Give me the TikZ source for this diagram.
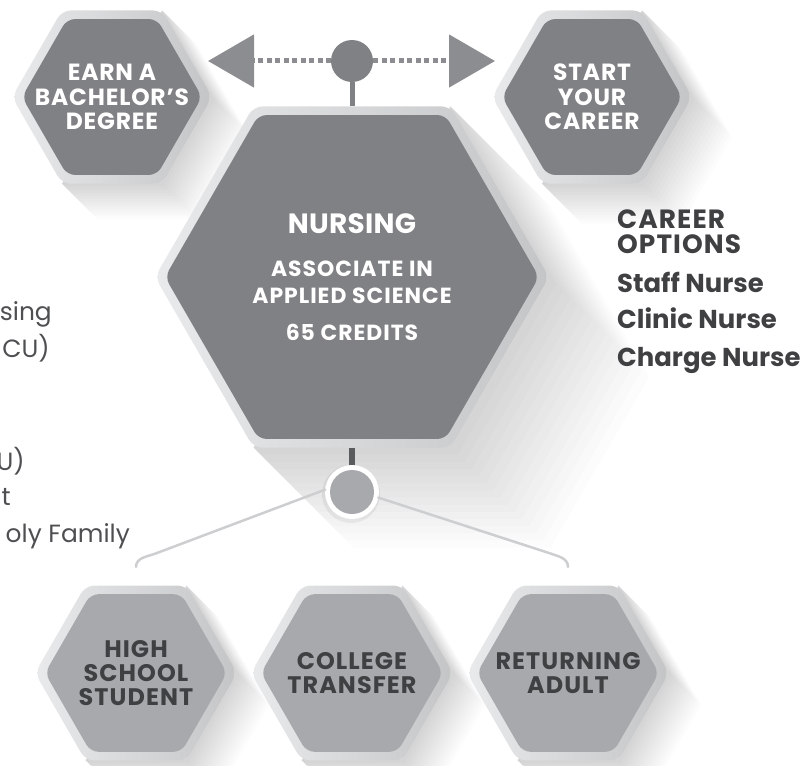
\documentclass[tikz,border=0pt]{standalone}
\usepackage{fontspec}
\setmainfont{Poppins}
\usetikzlibrary{shapes.geometric,arrows.meta,calc}

\definecolor{hexdark}{HTML}{808184}
\definecolor{hexlight}{HTML}{A7A9AC}
\definecolor{ringlight}{HTML}{E9EAEB}
\definecolor{ringdark}{HTML}{C4C5C7}
\definecolor{txtdark}{HTML}{3F4042}
\definecolor{txtmid}{HTML}{4E4F51}
\definecolor{dotgray}{HTML}{8C8D90}
\definecolor{conndark}{HTML}{5A5B5D}
\definecolor{linegray}{HTML}{CDCED0}

% soft cast shadow: stacked translucent extrusions of the hexagon towards lower right
\newcommand\mkshadow[4]{%
  \pgfmathsetmacro\hA{#3/2}\pgfmathsetmacro\hB{0.866*#3}%
  \foreach \k in {1,...,14}{%
    \pgfmathsetmacro\dd{#4*\k/14}%
    \fill[black, opacity=0.013]
      (#1-\hA,-#2-\hB) -- (#1-\hA+\dd,-#2-\hB-\dd) -- (#1+\hA+\dd,-#2-\hB-\dd)
      -- (#1+#3+\dd,-#2-\dd) -- (#1+\hA+\dd,-#2+\hB-\dd) -- (#1+\hA,-#2+\hB) -- cycle;}}

\tikzset{
  hexring/.style={regular polygon, regular polygon sides=6, minimum size=#1,
    inner sep=0pt, outer sep=0pt, left color=ringlight, right color=ringdark,
    rounded corners=9bp, draw=none},
  hexcore/.style={regular polygon, regular polygon sides=6, minimum size=#1,
    inner sep=0pt, outer sep=0pt, rounded corners=8bp, draw=none},
  hextxt/.style={align=center, inner sep=0pt,
    font=\bfseries\fontsize{23.5}{24.5}\selectfont\addfontfeature{LetterSpace=3.5}},
  hextxtb/.style={align=center, inner sep=0pt,
    font=\bfseries\fontsize{24}{23.8}\selectfont\addfontfeature{LetterSpace=4.5}},
  nurstitle/.style={anchor=base, inner sep=0pt, text=white,
    font=\bfseries\fontsize{28}{30}\selectfont\addfontfeature{LetterSpace=1}},
  nurssub/.style={anchor=base, inner sep=0pt, text=white,
    font=\bfseries\fontsize{22}{24}\selectfont\addfontfeature{LetterSpace=4.5}},
  careercaps/.style={anchor=base west, inner sep=0pt, text=txtdark,
    font=\bfseries\fontsize{26.5}{28}\selectfont\addfontfeature{LetterSpace=4}},
  careertxt/.style={anchor=base west, inner sep=0pt, text=txtdark,
    font=\bfseries\fontsize{26}{28}\selectfont},
  lefttxt/.style={anchor=base east, inner sep=0pt, text=txtmid, font=\fontsize{25}{28}\selectfont},
  dotline/.style={draw=dotgray, line width=5bp, dash pattern=on 5bp off 3.5bp,
    -{Triangle[length=46bp,width=52bp]}},
  topconn/.style={draw=hexdark, line width=5bp},
  botconn/.style={draw=conndark, line width=6bp},
  splitline/.style={draw=linegray, line width=2.5bp, line cap=round},
}

\begin{document}
\begin{tikzpicture}[x=1bp,y=1bp]
\useasboundingbox (0,0) rectangle (803,-766);

% shadows
\mkshadow{112}{97}{100}{35}
\mkshadow{592}{97}{100}{40}
\mkshadow{352}{277}{197}{100}
\mkshadow{136}{673}{101}{32}
\mkshadow{352}{673}{101}{32}
\mkshadow{568}{673}{101}{32}

% hexagons
\node[hexring=200bp] (earn) at (112,-97) {};
\node[hexcore=180bp, fill=hexdark] (earnc) at (earn.center) {};
\node[hexring=200bp] (start) at (592,-97) {};
\node[hexcore=180bp, fill=hexdark] (startc) at (start.center) {};
\node[hexring=394bp] (nurs) at (352,-277) {};
\node[hexcore=374bp, fill=hexdark] (nursc) at (nurs.center) {};
\node[hexring=202bp] (hs) at (136,-673) {};
\node[hexcore=182bp, fill=hexlight] (hsc) at (hs.center) {};
\node[hexring=202bp] (ct) at (352,-673) {};
\node[hexcore=182bp, fill=hexlight] (ctc) at (ct.center) {};
\node[hexring=202bp] (ra) at (568,-673) {};
\node[hexcore=182bp, fill=hexlight] (rac) at (ra.center) {};

% circles
\node[circle, minimum size=42bp, inner sep=0pt, outer sep=0pt, fill=hexdark] (tc) at (352,-61) {};
\node[circle, minimum size=58bp, inner sep=0pt, outer sep=0pt, fill=black, opacity=0.06] (bcs) at (351,-494) {};
\node[circle, minimum size=54bp, inner sep=0pt, outer sep=0pt, fill=white] (bc) at (352,-492) {};
\node[circle, minimum size=44bp, inner sep=0pt, outer sep=0pt, fill=hexlight] (bcc) at (bc.center) {};

% named free ends
\coordinate (ltip) at (208,-61);
\coordinate (rtip) at (495,-61);
\coordinate (lk) at (157,-553);
\coordinate (lend) at (136,-567);
\coordinate (rk) at (549,-553);
\coordinate (rend) at (568,-567);

% connectors
\draw[dotline] (tc) -- (ltip);
\draw[dotline] (tc) -- (rtip);
\draw[topconn] (tc) -- (nurs);
\draw[botconn] (nurs) -- (bc);
\draw[splitline] (bc.175) -- (lk) to[out=202,in=90] (lend);
\draw[splitline] (bc.-12) -- (rk) to[out=-20,in=90] (rend);

% texts in hexagons
\node[hextxt, text=white] (earnt) at (earn.center) {EARN A\\BACHELOR’S\\DEGREE};
\node[hextxt, text=white] (startt) at (start.center) {START\\YOUR\\CAREER};
\node[hextxtb, text=txtdark] (hst) at (hs.center) {HIGH\\SCHOOL\\STUDENT};
\node[hextxtb, text=txtdark] (ctt) at (ct.center) {COLLEGE\\TRANSFER};
\node[hextxtb, text=txtdark] (rat) at (ra.center) {RETURNING\\ADULT};

\node[nurstitle] (nt1) at (352,-233) {NURSING};
\node[nurssub] (nt2) at (352,-276) {ASSOCIATE IN};
\node[nurssub] (nt3) at (352,-303) {APPLIED SCIENCE};
\node[nurssub] (nt4) at (352,-340) {65 CREDITS};

% career options
\node[careercaps] (co1) at (617,-228) {CAREER};
\node[careercaps] (co2) at (617,-253) {OPTIONS};
\node[careertxt] (co3) at (617,-292) {Staff Nurse};
\node[careertxt] (co4) at (617,-328) {Clinic Nurse};
\node[careertxt] (co5) at (617,-366) {Charge Nurse};

% left text fragments
\node[lefttxt] (lt1) at (52,-320) {sing};
\node[lefttxt] (lt2) at (50,-357) {CU)};
\node[lefttxt] (lt3) at (25,-470) {U)};
\node[lefttxt] (lt4) at (11,-505) {t};
\node[lefttxt] (lt5) at (130,-542) {oly Family};
\end{tikzpicture}
\end{document}
